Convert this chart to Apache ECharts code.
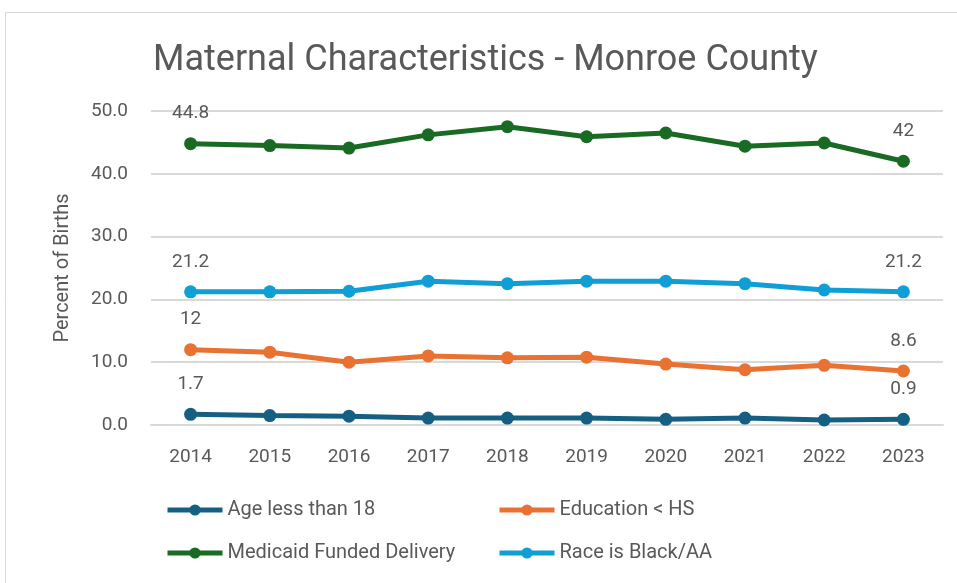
<!DOCTYPE html>
<html>
<head>
<meta charset="utf-8">
<script src="https://cdn.jsdelivr.net/npm/echarts@6/dist/echarts.min.js"></script>
<style>
  html, body { margin: 0; padding: 0; background: #fff; }
  #chart { width: 957px; height: 583px; }
</style>
</head>
<body>
<div id="chart"></div>
<script>
var years = ['2014', '2015', '2016', '2017', '2018', '2019', '2020', '2021', '2022', '2023']
var ageUnder18 = [1.7, 1.5, 1.4, 1.1, 1.1, 1.1, 0.9, 1.1, 0.8, 0.9]
var educationLessHS = [12, 11.6, 10.0, 11.0, 10.7, 10.8, 9.7, 8.8, 9.5, 8.6]
var medicaidDelivery = [44.8, 44.5, 44.1, 46.2, 47.5, 45.9, 46.5, 44.4, 44.9, 42]
var raceBlack = [21.2, 21.2, 21.3, 22.9, 22.5, 22.9, 22.9, 22.5, 21.5, 21.2]

var font = 'Roboto'
var grey = '#595959'

// only first and last point get a label, like the excel chart
function endLabel (p) {
  if (p.dataIndex === 0 || p.dataIndex === years.length - 1) return String(p.value)
  return ''
}

function makeSeries (name, data, color) {
  return {
    name: name,
    type: 'line',
    data: data,
    symbol: 'circle',
    symbolSize: 13,
    lineStyle: { width: 5, color: color },
    itemStyle: { color: color },
    label: {
      show: true,
      position: 'top',
      distance: 14,
      formatter: endLabel,
      color: grey,
      fontSize: 19,
      fontFamily: font
    }
  }
}

function makeLegend (left, names) {
  return {
    orient: 'vertical',
    left: left,
    top: 500,
    padding: 0,
    itemWidth: 55,
    itemHeight: 14,
    itemGap: 23,
    lineStyle: { width: 5 },
    data: names,
    textStyle: { fontSize: 20, color: grey, fontFamily: font }
  }
}

var option = {
  animation: false,
  title: {
    text: 'Maternal Characteristics - Monroe County',
    left: 153,
    top: 43,
    padding: 0,
    textStyle: { fontSize: 36, fontWeight: 'normal', color: grey, fontFamily: font }
  },
  graphic: [{
    type: 'rect',
    shape: { x: 5.5, y: 12.5, width: 1000, height: 1000 },
    style: { fill: 'none', stroke: '#d9d9d9', lineWidth: 1 },
    silent: true
  }],
  legend: [
    makeLegend(165, ['Age less than 18', 'Medicaid Funded Delivery']),
    makeLegend(497, ['Education < HS', 'Race is Black/AA'])
  ],
  grid: { left: 151, right: 14, top: 111, bottom: 158 },
  xAxis: {
    type: 'category',
    data: years,
    axisLine: { lineStyle: { color: '#d9d9d9', width: 2 } },
    axisTick: { show: false },
    axisLabel: { color: grey, fontSize: 19, fontFamily: font, margin: 23 }
  },
  yAxis: {
    type: 'value',
    min: 0,
    max: 50,
    interval: 10,
    name: 'Percent of Births',
    nameLocation: 'middle',
    nameGap: 78,
    nameTextStyle: { color: grey, fontSize: 20, fontFamily: font },
    axisLine: { show: false },
    axisTick: { show: false },
    splitLine: { lineStyle: { color: '#d9d9d9', width: 2 } },
    axisLabel: {
      color: grey,
      fontSize: 19,
      fontFamily: font,
      margin: 23,
      formatter: function (v) { return v.toFixed(1) }
    }
  },
  series: [
    makeSeries('Age less than 18', ageUnder18, '#156082'),
    makeSeries('Education < HS', educationLessHS, '#E97132'),
    makeSeries('Medicaid Funded Delivery', medicaidDelivery, '#196B24'),
    makeSeries('Race is Black/AA', raceBlack, '#0F9ED5')
  ]
}

var chart = echarts.init(document.getElementById('chart'))
chart.setOption(option)
</script>
</body>
</html>
